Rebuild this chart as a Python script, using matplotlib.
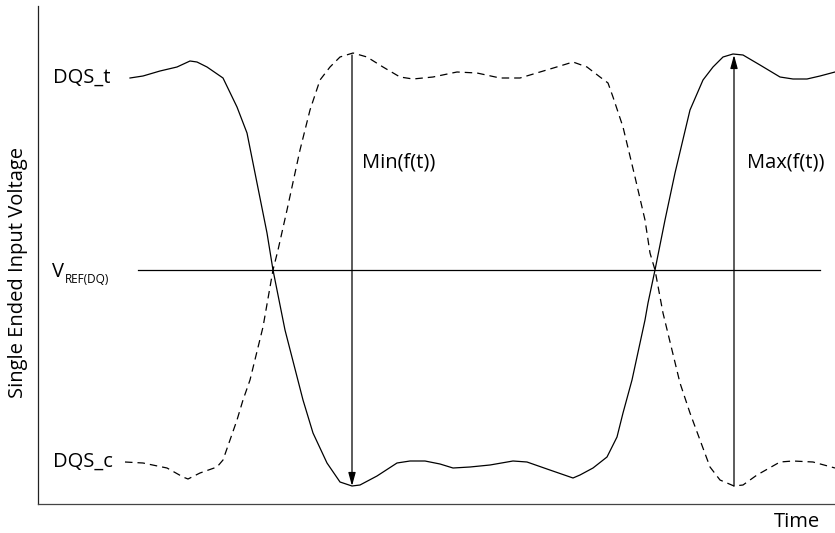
import matplotlib
matplotlib.use("Agg")
import matplotlib.pyplot as plt

dqs_t_time = [130, 143, 160, 177, 190, 197, 207, 223, 237, 247, 255, 267, 273, 285, 303,
              313, 327, 340, 352, 360, 377, 397, 410, 425, 440, 453, 470, 490, 513, 527,
              547, 573, 580, 593, 607, 617, 623, 632, 645, 648, 655, 665, 675, 690, 703,
              713, 723, 733, 743, 760, 780, 793, 807, 820, 835]
dqs_t_volt = [426, 428, 433, 437, 443, 442, 437, 426, 397, 371, 331, 271, 234, 174, 104,
              71, 41, 22, 18, 19, 28, 41, 43, 43, 40, 36, 37, 39, 43, 42,
              35, 26, 29, 36, 47, 67, 91, 124, 184, 201, 234, 284, 331, 394, 424,
              437, 447, 450, 449, 439, 427, 425, 425, 428, 432]

dqs_c_time = [125, 143, 167, 183, 188, 200, 217, 223, 230, 237, 243, 250, 263, 273, 278,
              287, 300, 310, 320, 330, 340, 353, 367, 383, 400, 413, 433, 457, 477, 500,
              520, 540, 560, 573, 587, 600, 608, 613, 623, 635, 645, 650, 655, 663, 680,
              690, 700, 710, 720, 734, 743, 757, 780, 793, 813, 835]
dqs_c_volt = [42, 41, 36, 27, 25, 31, 37, 44, 64, 84, 104, 124, 177, 234, 254,
              294, 354, 394, 424, 437, 447, 451, 447, 437, 427, 425, 427, 432, 431, 426,
              426, 432, 438, 442, 437, 427, 421, 407, 377, 327, 284, 251, 234, 191, 121,
              91, 64, 37, 24, 18, 19, 29, 42, 43, 42, 36]

vref = 234
vref_span = (138, 820)
min_t, max_t = 352, 734
v_high, v_low = 449, 18

FONT = ["Open Sans", "DejaVu Sans"]
plt.rcParams["font.family"] = FONT

fig = plt.figure(figsize=(8.35, 5.33), dpi=100, facecolor="white")
ax = fig.add_axes([38/835, 29/533, 797/835, 498/533])
ax.set_xlim(38, 835)
ax.set_ylim(0, 498)

for s in ["top", "right"]:
    ax.spines[s].set_visible(False)
ax.spines["left"].set_color("#222222")
ax.spines["bottom"].set_color("#444444")
ax.spines["left"].set_linewidth(0.9)
ax.spines["bottom"].set_linewidth(0.9)
ax.set_xticks([])
ax.set_yticks([])

ax.plot(dqs_t_time, dqs_t_volt, color="black", lw=0.9, solid_joinstyle="round")
ax.plot(dqs_c_time, dqs_c_volt, color="black", lw=0.9, linestyle=(0, (6, 4)))
ax.plot(vref_span, [vref, vref], color="black", lw=0.9)

arrow = dict(arrowstyle="-|>,head_length=0.8,head_width=0.22", color="black",
             lw=0.9, shrinkA=0, shrinkB=0, mutation_scale=10)
ax.annotate("", xy=(min_t, v_low), xytext=(min_t, v_high), arrowprops=arrow)
ax.annotate("", xy=(max_t, v_high), xytext=(max_t, v_low), arrowprops=arrow)

fs = 14.5
ax.text(53, 426, "DQS_t", fontsize=fs, ha="left", va="center")
ax.text(53, 42, "DQS_c", fontsize=fs, ha="left", va="center")
ax.text(52, 227, "V", fontsize=fs, ha="left", va="baseline")
ax.text(65, 221, "REF(DQ)", fontsize=8.5, ha="left", va="baseline")
ax.text(362, 342, "Min(f(t))", fontsize=fs, ha="left", va="center")
ax.text(747, 342, "Max(f(t))", fontsize=fs, ha="left", va="center")

fig.text(820/835, 1 - 522/533, "Time", fontsize=fs, ha="right", va="center")
fig.text(18/835, 1 - 272/533, "Single Ended Input Voltage", fontsize=fs,
         rotation=90, ha="center", va="center")

fig.savefig("out.png", dpi=100, facecolor="white")
